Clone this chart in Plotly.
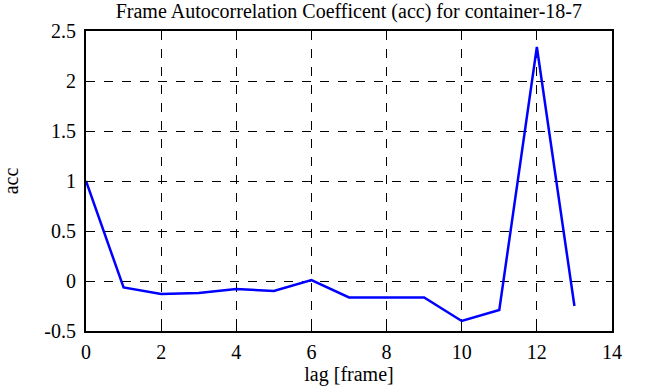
import plotly.graph_objects as go

lags = list(range(14))
acc = [1.0, -0.065, -0.13, -0.12, -0.08, -0.10, 0.01, -0.165, -0.165, -0.165, -0.40, -0.29, 2.34, -0.25]

x_ticks = [0, 2, 4, 6, 8, 10, 12, 14]
y_ticks = [-0.5, 0, 0.5, 1, 1.5, 2, 2.5]
y_tick_text = ["-0.5", "0", "0.5", "1", "1.5", "2", "2.5"]

font_family = "Liberation Serif, Times New Roman, serif"

fig = go.Figure()
fig.add_trace(go.Scatter(x=lags, y=acc, mode="lines",
                         line=dict(color="#0000ff", width=2.5), showlegend=False))

axis_common = dict(
    showgrid=True, gridcolor="black", griddash="dash", gridwidth=1,
    showline=True, linecolor="black", linewidth=2, mirror="allticks",
    ticks="inside", ticklen=6, tickcolor="black", tickwidth=1,
    zeroline=False, automargin=False,
    tickfont=dict(family=font_family, size=20, color="black"),
)

fig.update_xaxes(range=[0, 14], tickvals=x_ticks, ticklabelstandoff=2,
                 title=dict(text="lag [frame]", font=dict(family=font_family, size=20, color="black"), standoff=2),
                 **axis_common)
fig.update_yaxes(range=[-0.5, 2.5], tickvals=y_ticks, ticktext=y_tick_text, ticklabelstandoff=4,
                 title=dict(text="acc", font=dict(family=font_family, size=20, color="black"), standoff=24),
                 **axis_common)

fig.update_layout(
    width=646, height=387,
    margin=dict(l=86, r=34, t=31, b=56),
    paper_bgcolor="white", plot_bgcolor="white",
    title=dict(text="Frame Autocorrelation Coefficent (acc) for container-18-7",
               font=dict(family=font_family, size=20, color="black"),
               x=0.54, xanchor="center", y=0.972, yref="container", yanchor="middle"),
)

fig.write_html("out.html", config={"displayModeBar": False},
               post_script="document.body.style.margin='0';document.body.style.padding='0';")
